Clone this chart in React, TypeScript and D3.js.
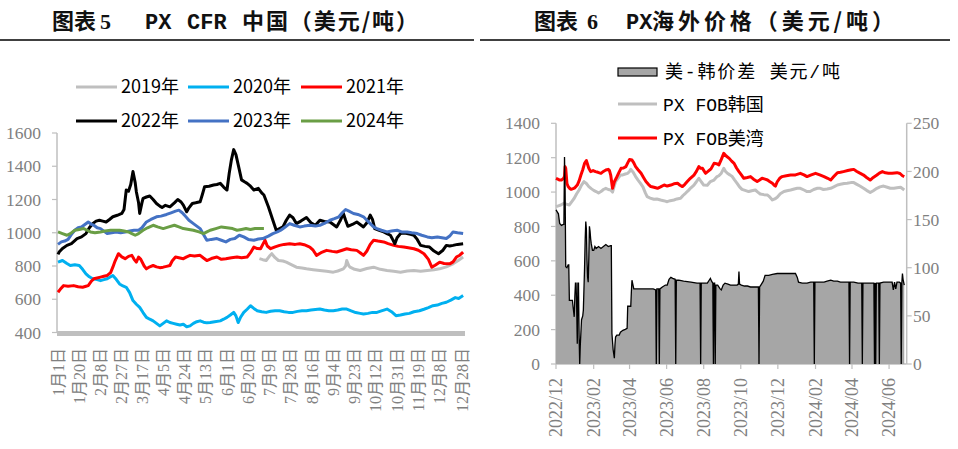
import React from "react";
import * as d3 from "d3";

// ---------- Left chart: PX CFR China ----------
const leftYTicks = [400, 600, 800, 1000, 1200, 1400, 1600];
const leftXTickDays = [0, 19, 38, 57, 75, 94, 113, 132, 151, 170, 189, 208, 227, 246, 265, 284, 303, 322, 341, 361];
const leftXTickLabels = ["1月1日", "1月20日", "2月8日", "2月27日", "3月17日", "4月5日", "4月24日", "5月13日", "6月1日", "6月20日", "7月9日", "7月28日", "8月16日", "9月4日", "9月23日", "10月12日", "10月31日", "11月19日", "12月8日", "12月28日"];
const yearNames = ["2019年", "2020年", "2021年", "2022年", "2023年", "2024年"];
const yearColors = ["#BFBFBF", "#00B0F0", "#FF0000", "#000000", "#4472C4", "#6A9E45"];

// [day of year, USD/t]
const px2019: [number, number][] = [[180,844],[183,838],[186,833],[189,860],[191,874],[194,850],[197,833],[201,830],[204,823],[208,810],[213,793],[218,788],[222,783],[228,778],[234,773],[240,768],[246,763],[250,770],[255,783],[257,800],[258,833],[260,800],[261,793],[265,780],[270,773],[276,785],[282,793],[288,780],[294,773],[300,768],[306,763],[312,770],[318,773],[324,768],[330,773],[336,778],[341,783],[347,795],[353,813],[358,835],[362,854]];
const px2020: [number, number][] = [[0,823],[4,833],[8,815],[11,803],[15,808],[19,803],[22,780],[25,753],[28,735],[31,723],[35,718],[38,712],[41,718],[44,723],[47,735],[49,743],[52,720],[55,692],[58,680],[61,672],[64,640],[67,592],[70,570],[73,551],[76,520],[79,491],[82,480],[85,470],[88,455],[91,440],[94,455],[97,470],[100,460],[103,455],[106,450],[109,445],[112,450],[115,435],[118,440],[121,455],[124,465],[127,470],[130,462],[133,458],[136,460],[140,465],[145,470],[148,480],[151,491],[154,505],[157,521],[159,500],[161,460],[163,490],[166,521],[169,540],[172,561],[175,545],[178,531],[182,525],[186,521],[190,528],[194,531],[198,531],[202,525],[206,521],[210,521],[214,527],[218,531],[222,531],[226,535],[230,538],[234,541],[238,535],[242,531],[246,531],[250,535],[254,541],[258,541],[262,530],[266,520],[270,515],[273,511],[277,515],[281,521],[285,521],[289,530],[294,541],[298,525],[302,501],[306,505],[310,511],[314,515],[318,525],[323,531],[327,540],[331,550],[335,561],[339,565],[343,575],[347,582],[351,595],[355,610],[358,605],[362,622]];
const px2021: [number, number][] = [[0,642],[2,660],[5,682],[9,678],[14,682],[18,675],[22,672],[25,678],[27,682],[30,710],[32,723],[35,728],[38,733],[41,738],[44,743],[47,760],[49,793],[51,830],[54,874],[57,855],[60,844],[63,858],[66,864],[68,840],[70,823],[72,854],[74,840],[77,800],[79,783],[82,795],[85,803],[88,795],[91,790],[94,793],[97,798],[100,803],[102,830],[105,854],[108,850],[112,844],[115,855],[118,864],[122,860],[127,864],[130,848],[133,833],[137,845],[142,854],[146,840],[150,844],[155,850],[160,854],[164,850],[169,854],[172,880],[175,914],[178,905],[181,904],[183,930],[185,955],[187,920],[190,904],[194,915],[198,924],[202,930],[207,934],[212,930],[216,934],[220,928],[225,914],[228,895],[231,864],[235,880],[240,894],[245,888],[249,884],[254,895],[258,904],[262,898],[267,894],[270,880],[273,864],[276,890],[279,930],[282,955],[286,950],[291,945],[295,935],[300,924],[304,918],[309,914],[313,910],[318,904],[322,895],[327,874],[331,840],[334,793],[337,805],[341,823],[345,815],[350,813],[353,825],[356,854],[359,865],[362,884]];
const px2022: [number, number][] = [[0,870],[1,884],[4,905],[8,924],[12,935],[17,965],[21,975],[25,995],[28,1030],[31,1055],[34,1070],[37,1075],[40,1070],[43,1065],[46,1080],[49,1096],[53,1105],[57,1116],[59,1140],[61,1257],[63,1250],[65,1290],[67,1368],[69,1300],[70,1247],[72,1180],[73,1116],[75,1180],[76,1207],[79,1215],[82,1221],[85,1200],[88,1176],[91,1160],[93,1152],[96,1165],[100,1156],[104,1180],[107,1200],[110,1185],[112,1166],[115,1126],[117,1150],[120,1176],[123,1180],[127,1186],[129,1230],[131,1277],[135,1280],[139,1287],[142,1290],[145,1297],[148,1275],[151,1257],[153,1358],[155,1440],[157,1500],[159,1470],[162,1380],[164,1318],[167,1305],[169,1297],[172,1280],[175,1257],[179,1267],[182,1240],[184,1227],[188,1156],[192,1075],[195,1015],[198,1025],[201,1035],[204,1075],[207,1106],[210,1090],[213,1055],[217,1070],[222,1092],[226,1060],[230,1045],[234,1075],[238,1068],[243,1065],[246,1050],[249,1035],[252,1070],[255,1116],[257,1075],[259,1039],[263,1050],[267,1065],[270,1050],[273,1035],[276,1060],[279,1106],[281,1080],[283,1025],[287,1015],[291,1005],[294,995],[297,985],[299,960],[301,934],[303,970],[306,995],[309,998],[312,995],[315,990],[318,985],[321,960],[324,924],[328,918],[332,914],[336,890],[340,874],[344,895],[347,924],[350,920],[353,924],[357,930],[362,934]];
const px2023: [number, number][] = [[0,930],[3,945],[6,950],[9,960],[12,990],[15,1015],[18,1030],[21,1035],[24,1050],[27,1065],[30,1050],[32,1045],[35,1030],[38,1025],[41,1010],[44,995],[48,1000],[52,1005],[56,1000],[60,1005],[64,1010],[68,1015],[72,1015],[75,1030],[79,1065],[83,1080],[88,1096],[92,1100],[97,1110],[101,1120],[105,1130],[108,1136],[111,1120],[113,1106],[117,1075],[121,1055],[124,1040],[127,1025],[130,990],[133,955],[137,960],[142,965],[146,955],[150,945],[154,960],[158,965],[162,985],[166,975],[170,960],[175,955],[179,962],[183,965],[188,980],[192,995],[196,1005],[199,1015],[203,1035],[207,1055],[211,1045],[216,1035],[220,1040],[225,1045],[230,1040],[234,1045],[239,1060],[243,1075],[247,1085],[251,1096],[254,1120],[257,1140],[260,1130],[264,1116],[268,1110],[273,1096],[276,1075],[279,1055],[282,1035],[285,1025],[289,1015],[294,1005],[298,1010],[303,1015],[307,1005],[312,1005],[316,1000],[321,995],[325,985],[330,975],[334,970],[339,975],[343,970],[347,965],[350,980],[353,1005],[357,1000],[362,995]];
const px2024: [number, number][] = [[0,1005],[4,995],[8,985],[11,995],[15,1015],[19,1020],[23,1025],[26,1015],[29,1005],[33,1000],[38,1005],[42,1010],[47,1015],[51,1015],[55,1015],[59,1010],[63,1005],[66,995],[69,985],[72,995],[76,1015],[80,1030],[85,1045],[89,1035],[94,1025],[99,1035],[104,1045],[108,1035],[112,1025],[117,1020],[121,1015],[126,1005],[130,995],[133,1005],[136,1015],[141,1025],[146,1035],[151,1030],[156,1025],[160,1015],[164,1020],[168,1025],[172,1020],[176,1025],[180,1025],[184,1025]];
const yearSeries = [px2019, px2020, px2021, px2022, px2023, px2024];

// ---------- Right chart: PX overseas prices ----------
const priceTicks = [0, 200, 400, 600, 800, 1000, 1200, 1400];
const spreadTicks = [0, 50, 100, 150, 200, 250];
const monthTickLabels = ["2022/12", "2023/02", "2023/04", "2023/06", "2023/08", "2023/10", "2023/12", "2024/02", "2024/04", "2024/06"];
const rightLegend = ["美-韩价差 美元/吨", "PX FOB韩国", "PX FOB美湾"];
// [days since 2022-12-01, value]
const fobKorea: [number, number][] = [[0,915],[4,920],[8,925],[13,935],[17,930],[22,925],[26,945],[30,964],[34,990],[38,1012],[42,1040],[46,1061],[50,1050],[54,1032],[58,1020],[62,1010],[66,1003],[70,995],[74,1003],[78,1015],[82,1022],[86,1015],[90,1012],[93,1000],[95,1025],[98,1061],[102,1080],[106,1099],[110,1100],[114,1105],[118,1109],[121,1120],[123,1132],[127,1115],[131,1090],[135,1070],[139,1051],[143,1030],[147,995],[150,973],[155,965],[161,958],[166,960],[172,954],[177,950],[183,944],[188,950],[194,954],[199,960],[205,964],[209,980],[213,993],[218,1010],[222,1025],[227,1041],[231,1060],[235,1080],[239,1060],[243,1041],[249,1040],[254,1061],[260,1070],[265,1090],[268,1095],[272,1110],[276,1138],[279,1120],[282,1109],[286,1100],[290,1090],[294,1070],[298,1051],[302,1030],[306,1016],[311,1010],[317,1003],[322,1008],[328,1012],[332,1000],[336,989],[342,985],[348,983],[352,970],[356,954],[360,960],[364,970],[369,990],[375,1003],[380,1008],[386,1012],[392,1018],[397,1022],[402,1022],[408,1012],[413,1003],[418,1003],[424,1015],[430,1022],[435,1022],[440,1015],[446,1018],[452,1022],[457,1030],[463,1041],[468,1045],[474,1050],[479,1051],[485,1055],[490,1055],[495,1045],[500,1035],[506,1022],[511,1010],[517,997],[522,1008],[528,1022],[533,1030],[539,1035],[545,1028],[550,1022],[556,1022],[561,1025],[567,1028],[573,1012]];
const fobUSGulf: [number, number][] = [[0,1080],[3,1075],[6,1070],[9,1070],[12,1078],[14,1090],[15,1148],[16,1138],[18,1050],[20,1032],[23,1020],[25,1016],[28,1020],[31,1025],[35,1041],[38,1065],[41,1099],[44,1130],[47,1167],[50,1183],[52,1160],[54,1138],[57,1119],[61,1125],[65,1119],[69,1115],[74,1109],[78,1120],[82,1128],[86,1132],[88,1125],[90,1099],[93,1022],[96,1060],[99,1080],[103,1110],[107,1138],[111,1140],[115,1148],[118,1170],[121,1190],[125,1187],[128,1170],[131,1148],[135,1130],[140,1109],[144,1085],[148,1061],[152,1045],[156,1032],[161,1028],[167,1022],[172,1030],[178,1041],[183,1035],[189,1041],[194,1048],[200,1051],[204,1040],[208,1032],[212,1045],[216,1061],[221,1080],[227,1099],[231,1120],[235,1148],[238,1138],[241,1138],[246,1109],[250,1120],[255,1135],[260,1167],[264,1165],[268,1158],[272,1190],[276,1225],[280,1210],[285,1196],[289,1180],[293,1167],[297,1140],[301,1119],[305,1100],[309,1080],[315,1085],[320,1090],[325,1075],[331,1061],[335,1070],[339,1080],[344,1075],[348,1070],[352,1060],[356,1051],[359,1040],[361,1035],[364,1060],[368,1080],[372,1090],[379,1095],[386,1099],[394,1100],[402,1109],[408,1100],[413,1090],[420,1100],[427,1109],[434,1100],[441,1090],[447,1080],[452,1070],[457,1090],[463,1113],[468,1115],[473,1119],[480,1125],[486,1130],[490,1132],[495,1120],[500,1110],[506,1099],[511,1085],[517,1070],[522,1085],[528,1099],[532,1110],[537,1119],[542,1112],[547,1109],[553,1110],[561,1113],[566,1108],[570,1095],[573,1090]];
const usKoreaSpread: [number, number][] = [[0,160],[2,158],[4,156],[6,146],[9,144],[12,145],[13,145],[14,215],[15,180],[16,101],[18,100],[20,103],[21,103],[22,66],[25,66],[27,66],[28,60],[30,49],[31,70],[32,84],[33,84],[34,60],[35,21],[36,84],[37,84],[38,30],[39,0],[40,20],[42,46],[44,50],[45,56],[47,100],[48,129],[49,148],[50,140],[51,108],[52,90],[53,85],[54,110],[55,143],[56,138],[57,130],[58,125],[60,118],[62,118],[64,122],[66,120],[70,122],[74,120],[78,122],[82,124],[86,122],[90,123],[91,123],[92,32],[94,15],[96,6],[97,20],[98,28],[100,30],[104,30],[106,33],[108,34],[110,35],[114,36],[117,37],[118,60],[121,60],[123,60],[124,75],[125,87],[126,84],[128,78],[135,78],[145,78],[155,78],[160,78],[164,77],[165,0],[166,78],[169,78],[170,0],[171,78],[175,80],[180,82],[183,82],[186,88],[189,90],[192,89],[196,88],[197,0],[198,87],[202,87],[210,86],[216,85.5],[222,85],[227,84.5],[232,84],[237,84],[238,0],[239,84],[244,84],[249,84],[252,87],[254,89],[256,86],[258,84],[259,0],[260,84],[261,84],[262,0],[263,82],[266,82],[270,78],[272,77],[275,82],[278,84],[283,83],[287,82],[292,82],[298,82],[300,83],[301,96],[302,83],[305,82],[310,81],[315,81],[320,80],[326,80],[330,80],[333,80],[334,0],[335,80],[337,82],[341,86],[344,92],[350,92],[356,93],[364,94],[372,94],[380,94],[388,94],[394,94],[397,90],[399,85],[405,84],[413,84],[419,85],[424,85],[425,0],[426,85],[430,85],[435,85],[441,85],[446,86],[452,87],[457,86],[463,86],[468,85],[475,85],[482,85],[483,0],[484,85],[490,85],[497,84],[503,84],[504,0],[505,84],[511,84],[518,84],[523,84],[524,0],[525,84],[526,0],[527,84],[531,84],[532,0],[533,84],[539,85],[545,85],[550,85],[553,85],[555,77],[557,85],[559,78],[561,85],[565,85],[567,84],[568,0],[569,84],[570,94],[571,88],[573,82]];

const AXIS_GRAY = "#BFBFBF";
const LABEL_GRAY = "#808080";
const SERIF = "'Liberation Serif', 'Noto Sans CJK SC', serif";
const CJK = "'Noto Sans CJK SC', sans-serif";
const MONO = "'Liberation Mono', 'Noto Sans CJK SC', monospace";

export default function App() {
  // left scales
  const xL = d3.scaleLinear().domain([0, 361]).range([58, 462]);
  const yL = d3.scaleLinear().domain([400, 1600]).range([332.5, 133]);
  const lineL = d3.line<[number, number]>().x((d) => xL(d[0])).y((d) => yL(d[1]));

  // right scales
  const base = new Date(2022, 11, 1);
  const toDate = (d: number) => d3.timeDay.offset(base, d);
  const xR = d3.scaleTime().domain([base, new Date(2024, 5, 30)]).range([556, 906.7]);
  const yP = d3.scaleLinear().domain([0, 1400]).range([364, 123.3]);
  const yS = d3.scaleLinear().domain([0, 250]).range([364, 123.3]);
  const lineP = d3.line<[number, number]>().x((d) => xR(toDate(d[0]))).y((d) => yP(d[1]));
  const lineS = d3.line<[number, number]>().x((d) => xR(toDate(d[0]))).y((d) => yS(d[1]));
  const areaS = d3.area<[number, number]>().x((d) => xR(toDate(d[0]))).y0(yS(0)).y1((d) => yS(d[1]));
  const monthDates = monthTickLabels.map((s) => {
    const [y, m] = s.split("/").map(Number);
    return new Date(y, m - 1, 1);
  });

  const legendRows = [
    [0, 1, 2],
    [3, 4, 5],
  ];
  const legendX = [76, 188, 301];
  const legendY = [87, 121];

  return (
    <svg width={958} height={449} style={{ position: "absolute", left: 0, top: 0, background: "#fff" }}>
      <rect x={0} y={0} width={958} height={449} fill="#fff" />
      {/* Titles */}
      <g fontSize={22} fontWeight="bold" fill="#111">
        <text x={52} y={29} fontFamily={CJK}>图表</text>
        <text x={100} y={29} fontFamily={SERIF}>5</text>
        <text x={145} y={29} fontFamily={MONO}>PX</text>
        <text x={187} y={29} fontFamily={MONO}>CFR</text>
        <text x={242} y={29} fontFamily={CJK} textLength={176} lengthAdjust="spacing">中国（美元/吨）</text>

        <text x={534} y={29} fontFamily={CJK}>图表</text>
        <text x={587} y={29} fontFamily={SERIF}>6</text>
        <text x={626} y={29} fontFamily={MONO}>PX</text>
        <text x={652} y={29} fontFamily={CJK} textLength={242} lengthAdjust="spacing">海外价格（美元/吨）</text>
      </g>
      <line x1={0} x2={474} y1={40} y2={40} stroke="#000" strokeWidth={1.3} />
      <line x1={480} x2={950} y1={40} y2={40} stroke="#000" strokeWidth={1.3} />

      {/* ---- Left chart ---- */}
      <g>
        {legendRows.map((row, ri) =>
          row.map((si, ci) => (
            <g key={si}>
              <line x1={legendX[ci]} x2={legendX[ci] + 41} y1={legendY[ri]} y2={legendY[ri]} stroke={yearColors[si]} strokeWidth={3} />
              <text x={legendX[ci] + 45} y={legendY[ri]} dy="0.36em" fontSize={18} fontFamily={CJK} fill="#000">
                {yearNames[si]}
              </text>
            </g>
          ))
        )}
        <line x1={57} x2={57} y1={133} y2={333} stroke={AXIS_GRAY} strokeWidth={1.5} />
        {leftYTicks.map((t) => (
          <g key={t}>
            <line x1={52} x2={57} y1={yL(t)} y2={yL(t)} stroke={AXIS_GRAY} strokeWidth={1.2} />
            <text x={41} y={yL(t)} dy="0.35em" textAnchor="end" fontSize={17.5} fontFamily={SERIF} fill={LABEL_GRAY}>
              {t}
            </text>
          </g>
        ))}
        <rect x={57} y={331} width={408} height={5} fill={AXIS_GRAY} />
        {leftXTickDays.map((d, i) => (
          <text
            key={d}
            transform={`translate(${xL(d)},348) rotate(-90)`}
            textAnchor="end"
            dy="0.35em"
            fontSize={16}
            fontFamily={SERIF}
            fill={LABEL_GRAY}
          >
            {leftXTickLabels[i]}
          </text>
        ))}
        {yearSeries.map((s, i) => (
          <path key={i} d={lineL(s) || ""} fill="none" stroke={yearColors[i]} strokeWidth={3} strokeLinejoin="round" />
        ))}
      </g>

      {/* ---- Right chart ---- */}
      <g>
        {/* legend */}
        <rect x={618} y={68} width={39} height={8} fill="#A6A6A6" stroke="#000" strokeWidth={1.2} />
        <text x={665} y={72} dy="0.36em" fontSize={18} fontFamily={MONO} fill="#000" textLength={175} lengthAdjust="spacing">
          {rightLegend[0]}
        </text>
        <line x1={618} x2={657} y1={104} y2={104} stroke="#BFBFBF" strokeWidth={3} />
        <text x={663} y={105} dy="0.36em" fontSize={18} fontFamily={MONO} fill="#000">
          {rightLegend[1]}
        </text>
        <line x1={618} x2={657} y1={138} y2={138} stroke="#FF0000" strokeWidth={3} />
        <text x={663} y={139} dy="0.36em" fontSize={18} fontFamily={MONO} fill="#000">
          {rightLegend[2]}
        </text>

        {/* axes */}
        <line x1={556} x2={556} y1={123.3} y2={364} stroke={AXIS_GRAY} strokeWidth={1.5} />
        <line x1={906.7} x2={906.7} y1={123.3} y2={364} stroke={AXIS_GRAY} strokeWidth={1.5} />
        <line x1={556} x2={906.7} y1={364} y2={364} stroke={AXIS_GRAY} strokeWidth={1.5} />
        {priceTicks.map((t) => (
          <g key={t}>
            <line x1={551} x2={556} y1={yP(t)} y2={yP(t)} stroke={AXIS_GRAY} strokeWidth={1.2} />
            <text x={540} y={yP(t)} dy="0.35em" textAnchor="end" fontSize={17.5} fontFamily={SERIF} fill={LABEL_GRAY}>
              {t}
            </text>
          </g>
        ))}
        {spreadTicks.map((t) => (
          <g key={t}>
            <line x1={906.7} x2={911.7} y1={yS(t)} y2={yS(t)} stroke={AXIS_GRAY} strokeWidth={1.2} />
            <text x={913} y={yS(t)} dy="0.35em" textAnchor="start" fontSize={17.5} fontFamily={SERIF} fill={LABEL_GRAY}>
              {t}
            </text>
          </g>
        ))}
        {monthDates.map((d, i) => (
          <g key={i}>
            <line x1={xR(d)} x2={xR(d)} y1={364} y2={369} stroke={AXIS_GRAY} strokeWidth={1.2} />
            <text
              transform={`translate(${xR(d)},378) rotate(-90)`}
              textAnchor="end"
              dy="0.35em"
              fontSize={18}
              fontFamily={SERIF}
              fill={LABEL_GRAY}
            >
              {monthTickLabels[i]}
            </text>
          </g>
        ))}

        <path d={lineP(fobKorea) || ""} fill="none" stroke="#BFBFBF" strokeWidth={3} strokeLinejoin="round" />
        <path d={lineP(fobUSGulf) || ""} fill="none" stroke="#FF0000" strokeWidth={3} strokeLinejoin="round" />
        <path d={areaS(usKoreaSpread) || ""} fill="#A6A6A6" stroke="none" />
        <path d={lineS(usKoreaSpread) || ""} fill="none" stroke="#000" strokeWidth={1.3} />
      </g>
    </svg>
  );
}
